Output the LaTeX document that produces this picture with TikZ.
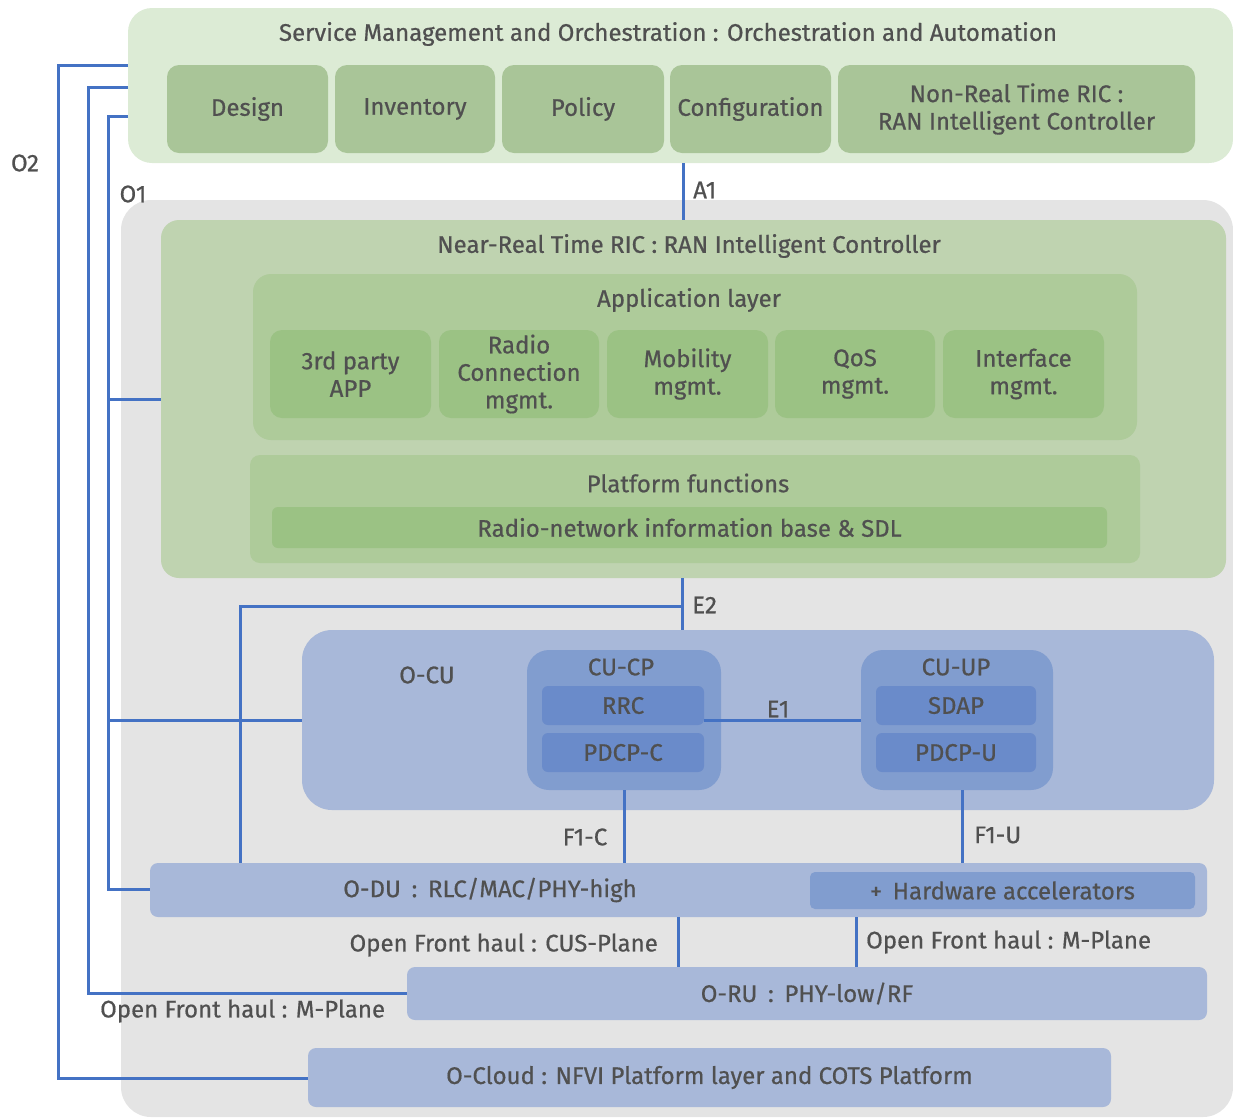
\documentclass[tikz,border=0pt]{standalone}
\usepackage{fontspec}
\setmainfont{Fira Sans}[FakeBold=0.6]
\definecolor{smoBg}{HTML}{DCEBD5}
\definecolor{smoSub}{HTML}{A9C598}
\definecolor{grayBg}{HTML}{E4E4E4}
\definecolor{ricBg}{HTML}{BFD3B0}
\definecolor{appBg}{HTML}{AECB9A}
\definecolor{appSub}{HTML}{9BC284}
\definecolor{cuBg}{HTML}{A8B8D9}
\definecolor{cpBg}{HTML}{819DCF}
\definecolor{rrcBg}{HTML}{6A8BCA}
\definecolor{lineBlue}{HTML}{4472C4}
\definecolor{txt}{HTML}{505050}
\begin{document}
\begin{tikzpicture}[x=1pt,y=-1pt,
  bx/.style={rounded corners=#1, inner sep=0pt, outer sep=0pt, anchor=north west, text=txt, align=center, font=\fontsize{24}{27.5}\selectfont},
  bx/.default=12pt,
  lbl/.style={text=txt, inner sep=0pt, font=\fontsize{24}{27.5}\selectfont},
  ln/.style={draw=lineBlue, line width=3pt}]
\useasboundingbox (0,0) rectangle (1233,1117);
% SMO
\node[bx=24pt, fill=smoBg, minimum width=1105pt, minimum height=155pt] (smo) at (128,8) {};
\node[lbl] (smot) at (668,34) {Service Management and Orchestration : Orchestration and Automation};
\node[bx, fill=smoSub, minimum width=161pt, minimum height=88pt] (design) at (167,65) {Design};
\node[bx, fill=smoSub, minimum width=160pt, minimum height=88pt] (inv) at (335,65) {Inventory};
\node[bx, fill=smoSub, minimum width=162pt, minimum height=88pt] (policy) at (502,65) {Policy};
\node[bx, fill=smoSub, minimum width=161pt, minimum height=88pt] (conf) at (670,65) {Configuration};
\node[bx, fill=smoSub, minimum width=357pt, minimum height=88pt] (nonrt) at (838,65) {Non-Real Time RIC :\\RAN Intelligent Controller};
% gray
\node[bx=30pt, fill=grayBg, minimum width=1112pt, minimum height=917pt] (gray) at (121,200) {};
% Near-RT RIC
\node[bx=18pt, fill=ricBg, minimum width=1065pt, minimum height=358pt] (ric) at (161,220) {};
\node[lbl] (rict) at (689,246) {Near-Real Time RIC : RAN Intelligent Controller};
\node[bx=18pt, fill=appBg, minimum width=884pt, minimum height=166pt] (app) at (253,274) {};
\node[lbl] (appt) at (689,300) {Application layer};
\node[bx, fill=appSub, minimum width=161pt, minimum height=88pt] (a1b) at (270,330) {3rd party\\APP};
\node[bx, fill=appSub, minimum width=160pt, minimum height=88pt] (a2b) at (439,330) {Radio\\Connection\\mgmt.};
\node[bx, fill=appSub, minimum width=161pt, minimum height=88pt] (a3b) at (607,330) {Mobility\\mgmt.};
\node[bx, fill=appSub, minimum width=160pt, minimum height=88pt] (a4b) at (775,330) {QoS\\mgmt.};
\node[bx, fill=appSub, minimum width=161pt, minimum height=88pt] (a5b) at (943,330) {Interface\\mgmt.};
\node[bx=10pt, fill=appBg, minimum width=890pt, minimum height=108pt] (plat) at (250,455) {};
\node[lbl] (platt) at (688,483) {Platform functions};
\node[bx=6pt, fill=appSub, minimum width=835pt, minimum height=41pt] (rnib) at (272,507) {Radio-network information base \& SDL};
% O-CU
\node[bx=30pt, fill=cuBg, minimum width=912pt, minimum height=180pt] (ocu) at (302,630) {};
\node[lbl] (ocut) at (427,675) {O-CU};
\node[bx=22pt, fill=cpBg, minimum width=194pt, minimum height=140pt] (cucp) at (527,650) {};
\node[lbl] (cucpt) at (621,667) {CU-CP};
\node[bx=6pt, fill=rrcBg, minimum width=162pt, minimum height=39pt] (rrc) at (542,686) {RRC};
\node[bx=6pt, fill=rrcBg, minimum width=162pt, minimum height=39pt] (pdcpc) at (542,733) {PDCP-C};
\node[bx=22pt, fill=cpBg, minimum width=192pt, minimum height=140pt] (cuup) at (861,650) {};
\node[lbl] (cuupt) at (956,667) {CU-UP};
\node[bx=6pt, fill=rrcBg, minimum width=160pt, minimum height=39pt] (sdap) at (876,686) {SDAP};
\node[bx=6pt, fill=rrcBg, minimum width=160pt, minimum height=39pt] (pdcpu) at (876,733) {PDCP-U};
% O-DU
\node[bx=8pt, fill=cuBg, minimum width=1057pt, minimum height=54pt] (odu) at (150,863) {};
\node[lbl] (odut) at (490,890) {O-DU\;\,:\;\,RLC/MAC/PHY-high};
\node[bx=5pt, fill=cpBg, minimum width=385pt, minimum height=37pt] (hw) at (810,872) {+\;\,Hardware accelerators};
% O-RU
\node[bx=8pt, fill=cuBg, minimum width=800pt, minimum height=53pt] (oru) at (407,967) {O-RU\;\,:\;\,PHY-low/RF};
% O-Cloud
\node[bx=8pt, fill=cuBg, minimum width=803pt, minimum height=59pt] (cloud) at (308,1048) {O-Cloud : NFVI Platform layer and COTS Platform};
% connectors
\draw[ln] (smo.south -| 683,0) -- (ric.north -| 683,0);
\node[lbl, anchor=west] (a1l) at (693,190) {A1};
\draw[ln] (ric.south -| 682,0) -- (ocu.north -| 682,0);
\node[lbl, anchor=west] (e2l) at (692,605) {E2};
\coordinate (e2j) at (682,606);
\draw[ln] (e2j) -- (240,606) -- (odu.north -| 240,0);
\draw[ln] (rrc.east |- 0,720) -- (cuup.west |- 0,720);
\node[lbl] (e1l) at (778,709) {E1};
\draw[ln] (cucp.south -| 624,0) -- (odu.north -| 624,0);
\node[lbl] (f1cl) at (585,837) {F1-C};
\draw[ln] (cuup.south -| 962,0) -- (odu.north -| 962,0);
\node[lbl, anchor=west] (f1ul) at (974,835) {F1-U};
\draw[ln] (odu.south -| 678,0) -- (oru.north -| 678,0);
\node[lbl, anchor=east] (cusl) at (658,945) {Open Front haul : CUS-Plane};
\draw[ln] (odu.south -| 856,0) -- (oru.north -| 856,0);
\node[lbl, anchor=west] (mpl) at (866,942) {Open Front haul : M-Plane};
% O1 / O2
\draw[ln] (smo.west |- 0,65) -- (58,65) -- (58,1078) -- (cloud.west |- 0,1078);
\draw[ln] (smo.west |- 0,87) -- (88,87) -- (88,993) -- (oru.west |- 0,993);
\draw[ln] (smo.west |- 0,116) -- (108,116) -- (108,889) -- (odu.west |- 0,889);
\draw[ln] (108,399) -- (ric.west |- 0,399);
\draw[ln] (108,720) -- (ocu.west |- 0,720);
\node[lbl, anchor=west] (mpl2) at (100,1011) {Open Front haul : M-Plane};
\node[lbl] (o2l) at (25,163) {O2};
\node[lbl] (o1l) at (133,194) {O1};
\end{tikzpicture}
\end{document}
